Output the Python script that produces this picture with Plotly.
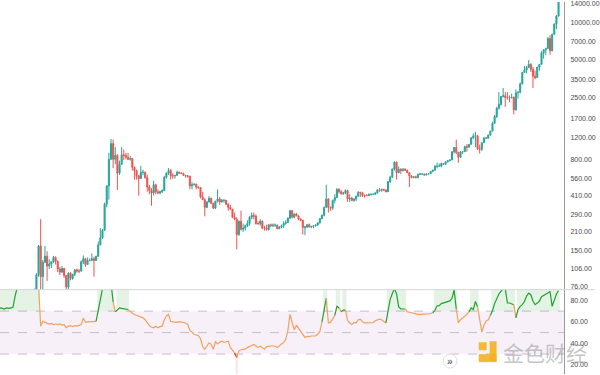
import pandas as pd
import plotly.graph_objects as go

# ---------------- data (weekly candles, first week 2012-11-05) ----------------
week_start = "2012-11-05"

open_ = [
    10.8, 11.0, 11.7, 12.3, 12.6, 13.4, 13.3, 13.4, 13.5, 13.5,          # k -55..-46
    14.2, 16.5, 17.6, 20.6, 23.9, 27.0, 29.8, 34.4, 46.9, 47.0,          # -45..-36
    71.5, 95, 162, 92, 120, 134, 112, 116, 121, 131,                     # -35..-26
    122, 106, 100, 107, 94, 76, 98, 89, 96, 104,                         # -25..-16
    102, 102, 121, 128, 115, 124, 124, 128, 124, 134,                    # -15..-6
    165, 188, 216, 350, 490, 800, 1070, 800, 860, 620,                   # -5..4
    730, 870, 860, 830, 800, 810, 690, 650, 590, 560,                    # 5..14
    630, 630, 570, 480, 450, 430, 500, 440, 430, 440,                    # 15..24
    450, 575, 620, 650, 590, 590, 595, 630, 620, 615,                    # 25..34
    595, 590, 585, 490, 500, 505, 480, 475, 400, 380,                    # 35..44
    330, 365, 390, 355, 325, 370, 385, 365, 375, 375,                    # 45..54
    350, 330, 320, 275, 265, 200, 255, 220, 225, 235,                    # 55..64
    245, 275, 285, 280, 245, 245, 255, 225, 225, 220,                    # 65..74
    240, 235, 238, 238, 222, 230, 235, 245, 250, 270,                    # 75..84
    310, 275, 292, 282, 265, 260, 228, 230, 240, 230,                    # 85..94
    232, 235, 238, 248, 268, 285, 330, 385, 330, 325,                    # 95..104
    375, 395, 460, 440, 425, 430, 450, 385, 390, 375,                    # 105..114
    385, 405, 435, 430, 410, 410, 410, 420, 420, 420,                    # 115..124
    430, 455, 450, 460, 455, 440, 530, 575, 670, 760,                    # 125..134
    625, 665, 650, 665, 655, 625, 590, 570, 580, 570,                    # 135..144
    605, 610, 610, 600, 610, 615, 640, 655, 700, 705,                    # 145..154
    705, 740, 730, 765, 780, 790, 920, 995, 905, 830,                    # 155..164
    920, 920, 1010, 1000, 1055, 1190, 1230, 1235, 970, 965,              # 165..174
    1085, 1180, 1180, 1250, 1345, 1550, 1760, 2050, 2200, 2540,          # 175..184
    2580, 2500, 2500, 2480, 2500, 1990, 2720, 2750, 3200, 3960,          # 185..194
    4130, 4350, 4600, 4200, 3700, 3600, 4380, 4600, 5700, 6000,          # 195..204
    6150, 7400, 5900, 8000, 9700, 11200,                                 # 205..210
]
high = [
    11.2, 11.9, 12.4, 12.8, 13.6, 13.8, 13.6, 13.6, 13.7, 14.5,
    16.8, 18.5, 21.0, 24.0, 27.5, 31.0, 34.5, 48.0, 48.4, 74.0,
    98.0, 165, 266, 125, 162, 147, 127, 122, 135, 134,
    124, 110, 112, 108, 95, 100, 100, 97, 106, 107,
    106, 124, 136, 130, 131, 129, 141, 133, 135, 176,
    225, 222, 360, 495, 900, 1163, 1150, 1000, 880, 780,
    1000, 960, 900, 900, 850, 820, 700, 660, 600, 710,
    660, 640, 600, 500, 470, 540, 510, 460, 450, 460,
    590, 630, 680, 670, 620, 600, 650, 640, 630, 625,
    600, 595, 590, 525, 515, 510, 485, 480, 440, 390,
    370, 405, 395, 360, 370, 460, 400, 385, 385, 380,
    355, 345, 320, 300, 275, 260, 310, 245, 240, 260,
    280, 300, 300, 290, 255, 265, 260, 235, 240, 240,
    245, 245, 245, 240, 233, 240, 255, 260, 275, 315,
    315, 295, 298, 285, 270, 262, 235, 240, 245, 235,
    238, 242, 250, 270, 290, 335, 500, 390, 335, 380,
    420, 470, 470, 455, 440, 460, 455, 420, 400, 390,
    410, 445, 440, 440, 420, 420, 425, 425, 425, 435,
    460, 470, 465, 465, 460, 535, 590, 675, 770, 765,
    700, 680, 680, 680, 660, 630, 600, 585, 590, 615,
    625, 615, 612, 615, 620, 645, 660, 720, 750, 740,
    750, 745, 770, 785, 800, 930, 1000, 1150, 920, 930,
    930, 1030, 1060, 1060, 1195, 1290, 1330, 1250, 1050, 1090,
    1210, 1210, 1260, 1350, 1600, 1810, 2100, 2760, 2560, 2980,
    2760, 2760, 2600, 2680, 2550, 2900, 2800, 3300, 4000, 4480,
    4470, 4980, 4700, 4400, 4100, 4390, 4600, 5840, 6100, 6250,
    7600, 7880, 8100, 9750, 11400, 17000,
]
low = [
    10.6, 10.9, 11.5, 12.1, 12.5, 13.0, 13.1, 13.2, 13.2, 13.4,
    14.0, 16.0, 17.4, 20.0, 23.5, 26.0, 29.5, 34.0, 36.5, 46.0,
    70.0, 92, 70, 68, 118, 85, 106, 108, 118, 115,
    100, 95, 99, 90, 65, 72, 86, 87, 93, 99,
    98, 101, 116, 110, 114, 122, 123, 92, 123, 132,
    165, 185, 215, 330, 380, 790, 680, 730, 455, 600,
    720, 790, 800, 790, 780, 650, 550, 550, 410, 560,
    600, 560, 440, 420, 340, 410, 420, 420, 420, 430,
    445, 560, 600, 550, 560, 560, 590, 610, 610, 590,
    570, 570, 460, 460, 495, 460, 465, 390, 380, 280,
    325, 360, 350, 320, 320, 360, 345, 360, 360, 345,
    310, 315, 270, 260, 152, 195, 215, 210, 215, 230,
    235, 265, 265, 240, 238, 235, 220, 215, 215, 215,
    230, 230, 230, 222, 222, 225, 225, 240, 248, 265,
    270, 270, 280, 260, 255, 200, 198, 225, 228, 225,
    225, 232, 235, 245, 265, 280, 330, 300, 310, 315,
    355, 390, 425, 415, 415, 420, 365, 365, 370, 365,
    370, 400, 400, 400, 395, 405, 405, 410, 415, 415,
    425, 440, 440, 445, 435, 440, 515, 570, 650, 550,
    620, 610, 640, 650, 620, 480, 565, 565, 565, 565,
    600, 600, 590, 595, 605, 610, 630, 650, 680, 700,
    690, 725, 725, 755, 770, 790, 890, 880, 750, 820,
    880, 915, 920, 990, 1050, 1160, 1000, 950, 890, 930,
    1080, 1160, 1170, 1240, 1340, 1540, 1710, 2000, 2150, 2500,
    2100, 2400, 2300, 2450, 1830, 1960, 2450, 2700, 3200, 3950,
    3900, 4300, 4000, 2970, 3500, 3600, 4100, 4600, 5100, 5450,
    6100, 5500, 5850, 7950, 8800, 11100,
]
close = [
    11.0, 11.7, 12.3, 12.6, 13.4, 13.3, 13.4, 13.5, 13.5, 14.2,
    16.5, 17.6, 20.6, 23.9, 27.0, 29.8, 34.4, 46.9, 47.0, 71.5,
    95.0, 162, 92, 120, 134, 112, 116, 121, 131, 122,
    106, 100, 107, 94, 76, 98, 89, 96, 104, 102,
    102, 121, 128, 115, 124, 124, 128, 124, 134, 165,
    188, 216, 350, 490, 800, 1070, 800, 860, 620, 730,
    870, 860, 830, 800, 810, 690, 650, 590, 560, 630,
    630, 570, 480, 450, 430, 500, 440, 430, 440, 450,
    575, 620, 650, 590, 590, 595, 630, 620, 615, 595,
    590, 585, 490, 500, 505, 480, 475, 400, 380, 330,
    365, 390, 355, 325, 370, 385, 365, 375, 375, 350,
    330, 320, 275, 265, 200, 255, 220, 225, 235, 245,
    275, 285, 280, 245, 245, 255, 225, 225, 220, 240,
    235, 238, 238, 222, 230, 235, 245, 250, 270, 310,
    275, 292, 282, 265, 260, 228, 230, 240, 230, 232,
    235, 238, 248, 268, 285, 330, 385, 330, 325, 375,
    395, 460, 440, 425, 430, 450, 385, 390, 375, 385,
    405, 435, 430, 410, 410, 410, 420, 420, 420, 430,
    455, 450, 460, 455, 440, 530, 575, 670, 760, 625,
    665, 650, 665, 655, 625, 590, 570, 580, 570, 605,
    610, 610, 600, 610, 615, 640, 655, 700, 705, 705,
    740, 730, 765, 780, 790, 920, 995, 905, 830, 920,
    920, 1010, 1000, 1055, 1190, 1230, 1235, 970, 965, 1085,
    1180, 1180, 1250, 1345, 1550, 1760, 2050, 2200, 2540, 2580,
    2500, 2500, 2480, 2500, 1990, 2720, 2750, 3200, 3960, 4130,
    4350, 4600, 4200, 3700, 3600, 4380, 4600, 5700, 6000, 6150,
    7400, 5900, 8000, 9700, 11200, 15000,
]
rsi = [
    72, 72.5, 72, 73, 72.5, 72, 73, 72.5, 73, 73.5,
    84, 92, 93, 94, 93, 94, 95, 95, 96, 97,
    97, 94, 56, 60.5, 59.5, 58.5, 58, 58.5, 57.5, 58,
    57.5, 58, 57, 57.5, 54.5, 56, 56.5, 55.5, 56.5, 56,
    57, 57.5, 63.5, 59.5, 60, 60, 60.5, 60, 60.5, 72,
    83, 91, 94, 96, 97, 96, 78.5, 69.3, 71.5, 73,
    72.5, 72, 71.8, 71.5, 69.5, 68, 66.8, 66, 65.3, 64.5,
    63.7, 62, 59, 56.5, 55, 54.5, 56, 54.5, 55.5, 56,
    62, 65.5, 67, 60.5, 60, 59.7, 59.5, 60.2, 60, 59.5,
    59, 57.6, 52, 50.5, 48.5, 47.8, 47, 44.5, 37, 34.5,
    38, 40.5, 39, 34.5, 41.5, 39.5, 41, 42, 40.8, 41.5,
    42, 36, 33.5, 31, 26.8, 33, 34, 34.3, 34.8, 36,
    37, 37.8, 39, 37.5, 36, 37.5, 36, 34.5, 37, 37.5,
    37.5, 37.5, 37.3, 36, 38, 39.3, 40.6, 43.7, 52, 67,
    59.5, 52.5, 57, 54, 51.4, 47.5, 45.5, 46.5, 46.2, 46.8,
    46.8, 47, 48.5, 51, 60, 73, 82, 59, 59.5, 63,
    66, 74.5, 73, 69.5, 71, 71, 61.5, 59, 57.6, 59.5,
    59, 62, 62.5, 60, 59, 59, 59, 59.2, 59.3, 61,
    62, 62.5, 62, 60.7, 59, 71.4, 81, 86.5, 91, 86,
    74, 72, 72, 72, 69.5, 69, 68.4, 67.5, 67, 67,
    67, 67, 67.2, 67.3, 67.4, 67.8, 68.4, 70.8, 75, 75,
    77, 77.8, 78.2, 78.8, 79.5, 82, 89.9, 72, 59, 62,
    63.5, 65, 67, 69.5, 73, 71.5, 79, 74, 64, 50.5,
    57, 60.7, 62, 66, 70.5, 77, 82.5, 86, 88.5, 91,
    91, 77.6, 77.6, 77, 76, 63.7, 71.5, 74.5, 76, 79,
    84, 86.8, 85.3, 79.5, 76, 77.5, 79.2, 83.5, 84.5, 85.5,
    86.8, 88.4, 74.5, 80, 86, 89,
]

price_ticks = [76, 106, 150, 210, 290, 410, 560, 800, 1200, 1700,
               2500, 3500, 5000, 7000, 10000, 14000]
price_tick_text = ["76.00", "106.00", "150.00", "210.00", "290.00", "410.00",
                   "560.00", "800.00", "1200.00", "1700.00", "2500.00",
                   "3500.00", "5000.00", "7000.00", "10000.00", "14000.00"]
rsi_ticks = [20, 40, 60, 80]
rsi_tick_text = ["20.00", "40.00", "60.00", "80.00"]
overbought, middle, oversold = 70, 50, 30

# ---------------- figure ----------------
dates = pd.date_range(week_start, periods=len(close), freq="7D")
anchor = pd.Timestamp("2013-11-25")
x_range = [anchor + pd.Timedelta(weeks=-52.09), anchor + pd.Timedelta(weeks=212.56)]

UP, DOWN = "#26a69a", "#ef5350"
GREEN, ORANGE, RED = "#21a12d", "#f2a15f", "#e5261c"
RSI_LO, RSI_HI = 11.4, 90.0
SPLIT = 85 / 375.0   # panel split (paper fraction)

fig = go.Figure()

fig.add_trace(go.Candlestick(
    x=dates, open=open_, high=high, low=low, close=close,
    xaxis="x", yaxis="y", whiskerwidth=0, hoverinfo="skip",
    increasing=dict(line=dict(color=UP, width=1), fillcolor=UP),
    decreasing=dict(line=dict(color=DOWN, width=1), fillcolor=DOWN),
))

week_ms = 7 * 24 * 3600 * 1000
ob_x = [d for d, v in zip(dates, rsi) if v > overbought]
fig.add_trace(go.Bar(
    x=ob_x, y=[RSI_HI + 5 - overbought] * len(ob_x), base=overbought,
    width=week_ms, xaxis="x2", yaxis="y2", hoverinfo="skip",
    marker=dict(color="rgba(76,175,80,0.15)", line=dict(width=0)),
))
os_x = [d for d, v in zip(dates, rsi) if v < oversold]
fig.add_trace(go.Bar(
    x=os_x, y=[oversold - RSI_LO + 5] * len(os_x), base=RSI_LO - 5,
    width=week_ms, xaxis="x2", yaxis="y2", hoverinfo="skip",
    marker=dict(color="rgba(244,67,54,0.15)", line=dict(width=0)),
))


def state_color(v):
    if v > overbought:
        return GREEN
    if v < oversold:
        return RED
    return ORANGE


cols = [state_color(v) for v in rsi]
n = len(rsi)
seg_start = 0
cur = cols[1]
runs = []
for i in range(2, n):
    if cols[i] != cur:
        runs.append((seg_start, i - 1, cur))
        seg_start = i - 1
        cur = cols[i]
runs.append((seg_start, n - 1, cur))
for a, b, c in runs:
    fig.add_trace(go.Scatter(
        x=dates[a:b + 1], y=rsi[a:b + 1], mode="lines",
        line=dict(color=c, width=1.2), xaxis="x2", yaxis="y2",
        hoverinfo="skip",
    ))

tickfont = dict(size=7, color="#4a4a4a", family="Liberation Sans, Arial")
fig.update_layout(
    width=600, height=375, margin=dict(l=0, r=31, t=0, b=0),
    paper_bgcolor="white", plot_bgcolor="white", showlegend=False,
    barmode="overlay",
    xaxis=dict(domain=[0, 1], range=x_range, visible=False, anchor="y",
               rangeslider=dict(visible=False)),
    yaxis=dict(domain=[SPLIT, 1], type="log", range=[1.8596, 4.1619],
               side="right", anchor="x", tickvals=price_ticks,
               ticktext=price_tick_text, showgrid=False, zeroline=False,
               showline=True, linecolor="#9a9a9a", linewidth=1, ticks="",
               tickfont=tickfont, ticklabelstandoff=4,
               ticklabeloverflow="allow"),
    xaxis2=dict(domain=[0, 1], range=x_range, visible=False, anchor="y2"),
    yaxis2=dict(domain=[0, SPLIT], range=[RSI_LO, RSI_HI], side="right",
                anchor="x2", tickvals=rsi_ticks, ticktext=rsi_tick_text,
                showgrid=False, zeroline=False, showline=True,
                linecolor="#9a9a9a", linewidth=1, ticks="",
                tickfont=tickfont, ticklabelstandoff=4,
                ticklabeloverflow="allow"),
)

shapes = [
    dict(type="rect", xref="x2 domain", yref="y2", x0=0, x1=1,
         y0=oversold, y1=overbought, fillcolor="#f7f0f9",
         line=dict(width=0), layer="below"),
]
for lvl in (overbought, middle, oversold):
    shapes.append(dict(type="line", xref="x2 domain", yref="y2", x0=0, x1=1,
                       y0=lvl, y1=lvl, layer="below",
                       line=dict(color="#c9bcc9", width=1, dash="dash")))
shapes.append(dict(type="line", xref="paper", yref="paper", x0=0, x1=600 / 569,
                   y0=SPLIT, y1=SPLIT, line=dict(color="#d5d5d5", width=1)))
# watermark logo blocks
logo = "rgba(245,176,33,0.9)"
for (lx0, ly0, lx1, ly1) in [(483, 343, 491, 351), (494, 342, 501, 362),
                             (483, 355, 501, 363)]:
    shapes.append(dict(type="rect", xref="paper", yref="paper",
                       x0=lx0 / 569, x1=lx1 / 569,
                       y0=(375 - ly1) / 375, y1=(375 - ly0) / 375,
                       fillcolor=logo, line=dict(width=0)))
shapes.append(dict(type="circle", xref="paper", yref="paper",
                   x0=447 / 569, x1=461 / 569, y0=(375 - 369) / 375,
                   y1=(375 - 355) / 375, fillcolor="white",
                   line=dict(color="#e0e0e0", width=1)))
fig.update_layout(shapes=shapes)

fig.add_annotation(xref="paper", yref="paper", x=550 / 569, y=(375 - 353) / 375,
                   xanchor="center", yanchor="middle",
                   text="金色财经", showarrow=False,
                   font=dict(family="Noto Sans CJK SC", size=21,
                             color="rgba(140,140,140,0.5)"))
fig.add_annotation(xref="paper", yref="paper", x=454 / 569, y=(375 - 362) / 375,
                   xanchor="center", yanchor="middle",
                   text="»", showarrow=False,
                   font=dict(family="Liberation Sans", size=10, color="#333"))

fig.write_html("out.html", config={"displayModeBar": False},
               post_script="document.body.style.margin='0';")
